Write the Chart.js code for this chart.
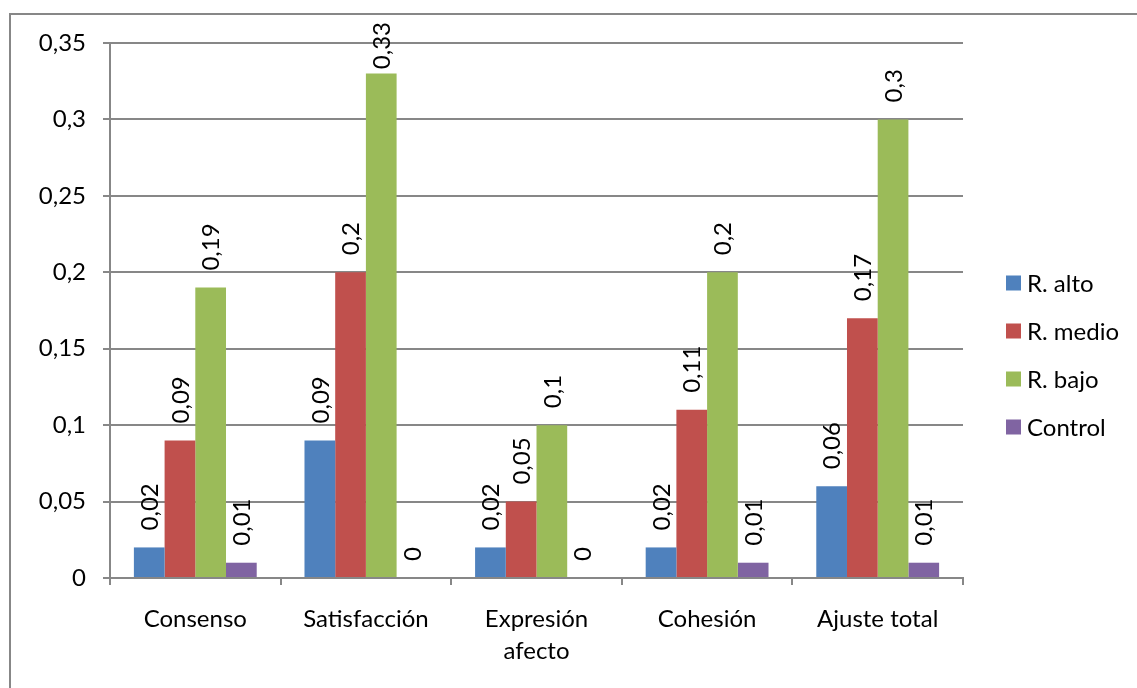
<!DOCTYPE html>
<html>
<head>
<meta charset="utf-8">
<style>
  html, body { margin: 0; padding: 0; background: #ffffff; }
  #wrap { width: 1137px; height: 688px; }
</style>
<script src="https://cdn.jsdelivr.net/npm/chart.js@4/dist/chart.umd.min.js"></script>
</head>
<body>
<div id="wrap"><canvas id="chart" width="1137" height="688"></canvas></div>
<script>
// Categories and series
const categories = ['Consenso', 'Satisfacción', ['Expresión', 'afecto'], 'Cohesión', 'Ajuste total'];
const rAlto   = [0.02, 0.09, 0.02, 0.02, 0.06];
const rMedio  = [0.09, 0.20, 0.05, 0.11, 0.17];
const rBajo   = [0.19, 0.33, 0.10, 0.20, 0.30];
const control = [0.01, 0.00, 0.00, 0.01, 0.01];
const seriesNames = ['R. alto', 'R. medio', 'R. bajo', 'Control'];
const yTickLabels = ['0', '0,05', '0,1', '0,15', '0,2', '0,25', '0,3', '0,35'];

const colors = ['#4F81BD', '#C0504D', '#9BBB59', '#8064A2'];
const FONT = 'Lato';
const FSIZE = 24;
const GRID = '#878787';

function fmt(v) {
  return String(+v.toFixed(2)).replace('.', ',');
}

// White page with the grey outer frame of the chart
const framePlugin = {
  id: 'frame',
  beforeDraw(chart) {
    const ctx = chart.ctx;
    ctx.save();
    ctx.fillStyle = '#ffffff';
    ctx.fillRect(0, 0, chart.width, chart.height);
    ctx.strokeStyle = GRID;
    ctx.lineWidth = 2;
    ctx.strokeRect(10, 14, chart.width + 20, chart.height + 20);
    ctx.restore();
  }
};

// Rotated value labels above each bar
const valueLabels = {
  id: 'valueLabels',
  afterDatasetsDraw(chart) {
    const ctx = chart.ctx;
    ctx.save();
    ctx.font = FSIZE + 'px ' + FONT;
    ctx.fillStyle = '#000000';
    ctx.textAlign = 'left';
    ctx.textBaseline = 'middle';
    chart.data.datasets.forEach((ds, di) => {
      const meta = chart.getDatasetMeta(di);
      meta.data.forEach((bar, i) => {
        const txt = fmt(ds.data[i]);
        const w = ctx.measureText(txt).width;
        let start = bar.y - 17;              // bottom end of the rotated text
        if (start - w < 22) start = 22 + w;  // keep inside the frame
        ctx.save();
        ctx.translate(bar.x, start);
        ctx.rotate(-Math.PI / 2);
        ctx.fillText(txt, 0, 1);
        ctx.restore();
      });
    });
    ctx.restore();
  }
};

// Legend on the right, one entry per row
const sideLegend = {
  id: 'sideLegend',
  afterDraw(chart) {
    const ctx = chart.ctx;
    ctx.save();
    ctx.font = FSIZE + 'px ' + FONT;
    ctx.textBaseline = 'middle';
    ctx.textAlign = 'left';
    const x0 = 1006, y0 = 283, step = 48;
    chart.data.datasets.forEach((ds, i) => {
      const y = y0 + i * step;
      ctx.fillStyle = ds.backgroundColor;
      ctx.fillRect(x0, y - 7.5, 15, 15);
      ctx.fillStyle = '#000000';
      ctx.fillText(ds.label, x0 + 21, y + 1);
    });
    ctx.restore();
  }
};

const seriesData = [rAlto, rMedio, rBajo, control];

new Chart(document.getElementById('chart'), {
  type: 'bar',
  data: {
    labels: categories,
    datasets: seriesData.map((d, i) => ({
      label: seriesNames[i],
      data: d,
      backgroundColor: colors[i],
      borderWidth: 0,
      barPercentage: 1.0,
      categoryPercentage: 0.72
    }))
  },
  options: {
    responsive: false,
    animation: false,
    devicePixelRatio: 1,
    layout: { padding: { left: 0, right: 174, top: 43, bottom: 0 } },
    plugins: {
      legend: { display: false },
      tooltip: { enabled: false },
      title: { display: false }
    },
    scales: {
      x: {
        offset: true,
        grid: {
          offset: true,
          drawOnChartArea: false,
          drawTicks: true,
          tickLength: 7,
          color: GRID,
          lineWidth: 2
        },
        border: { display: true, color: GRID, width: 2 },
        ticks: {
          color: '#000000',
          font: { family: FONT, size: FSIZE, lineHeight: 1.35 },
          padding: 18,
          maxRotation: 0,
          minRotation: 0,
          autoSkip: false
        },
        afterFit(scale) {
          scale.height = 110;
          scale.paddingLeft = 0;
          scale.paddingRight = 0;
        }
      },
      y: {
        min: 0,
        max: 0.35,
        grid: {
          color: GRID,
          lineWidth: 2,
          tickLength: 7,
          drawTicks: true
        },
        border: { display: true, color: GRID, width: 2 },
        ticks: {
          stepSize: 0.05,
          color: '#000000',
          font: { family: FONT, size: FSIZE },
          padding: 17,
          callback: (v, idx) => yTickLabels[idx]
        },
        afterFit(scale) {
          scale.width = 110;
          scale.paddingTop = 0;
          scale.paddingBottom = 0;
        }
      }
    }
  },
  plugins: [framePlugin, valueLabels, sideLegend]
});
</script>
</body>
</html>
